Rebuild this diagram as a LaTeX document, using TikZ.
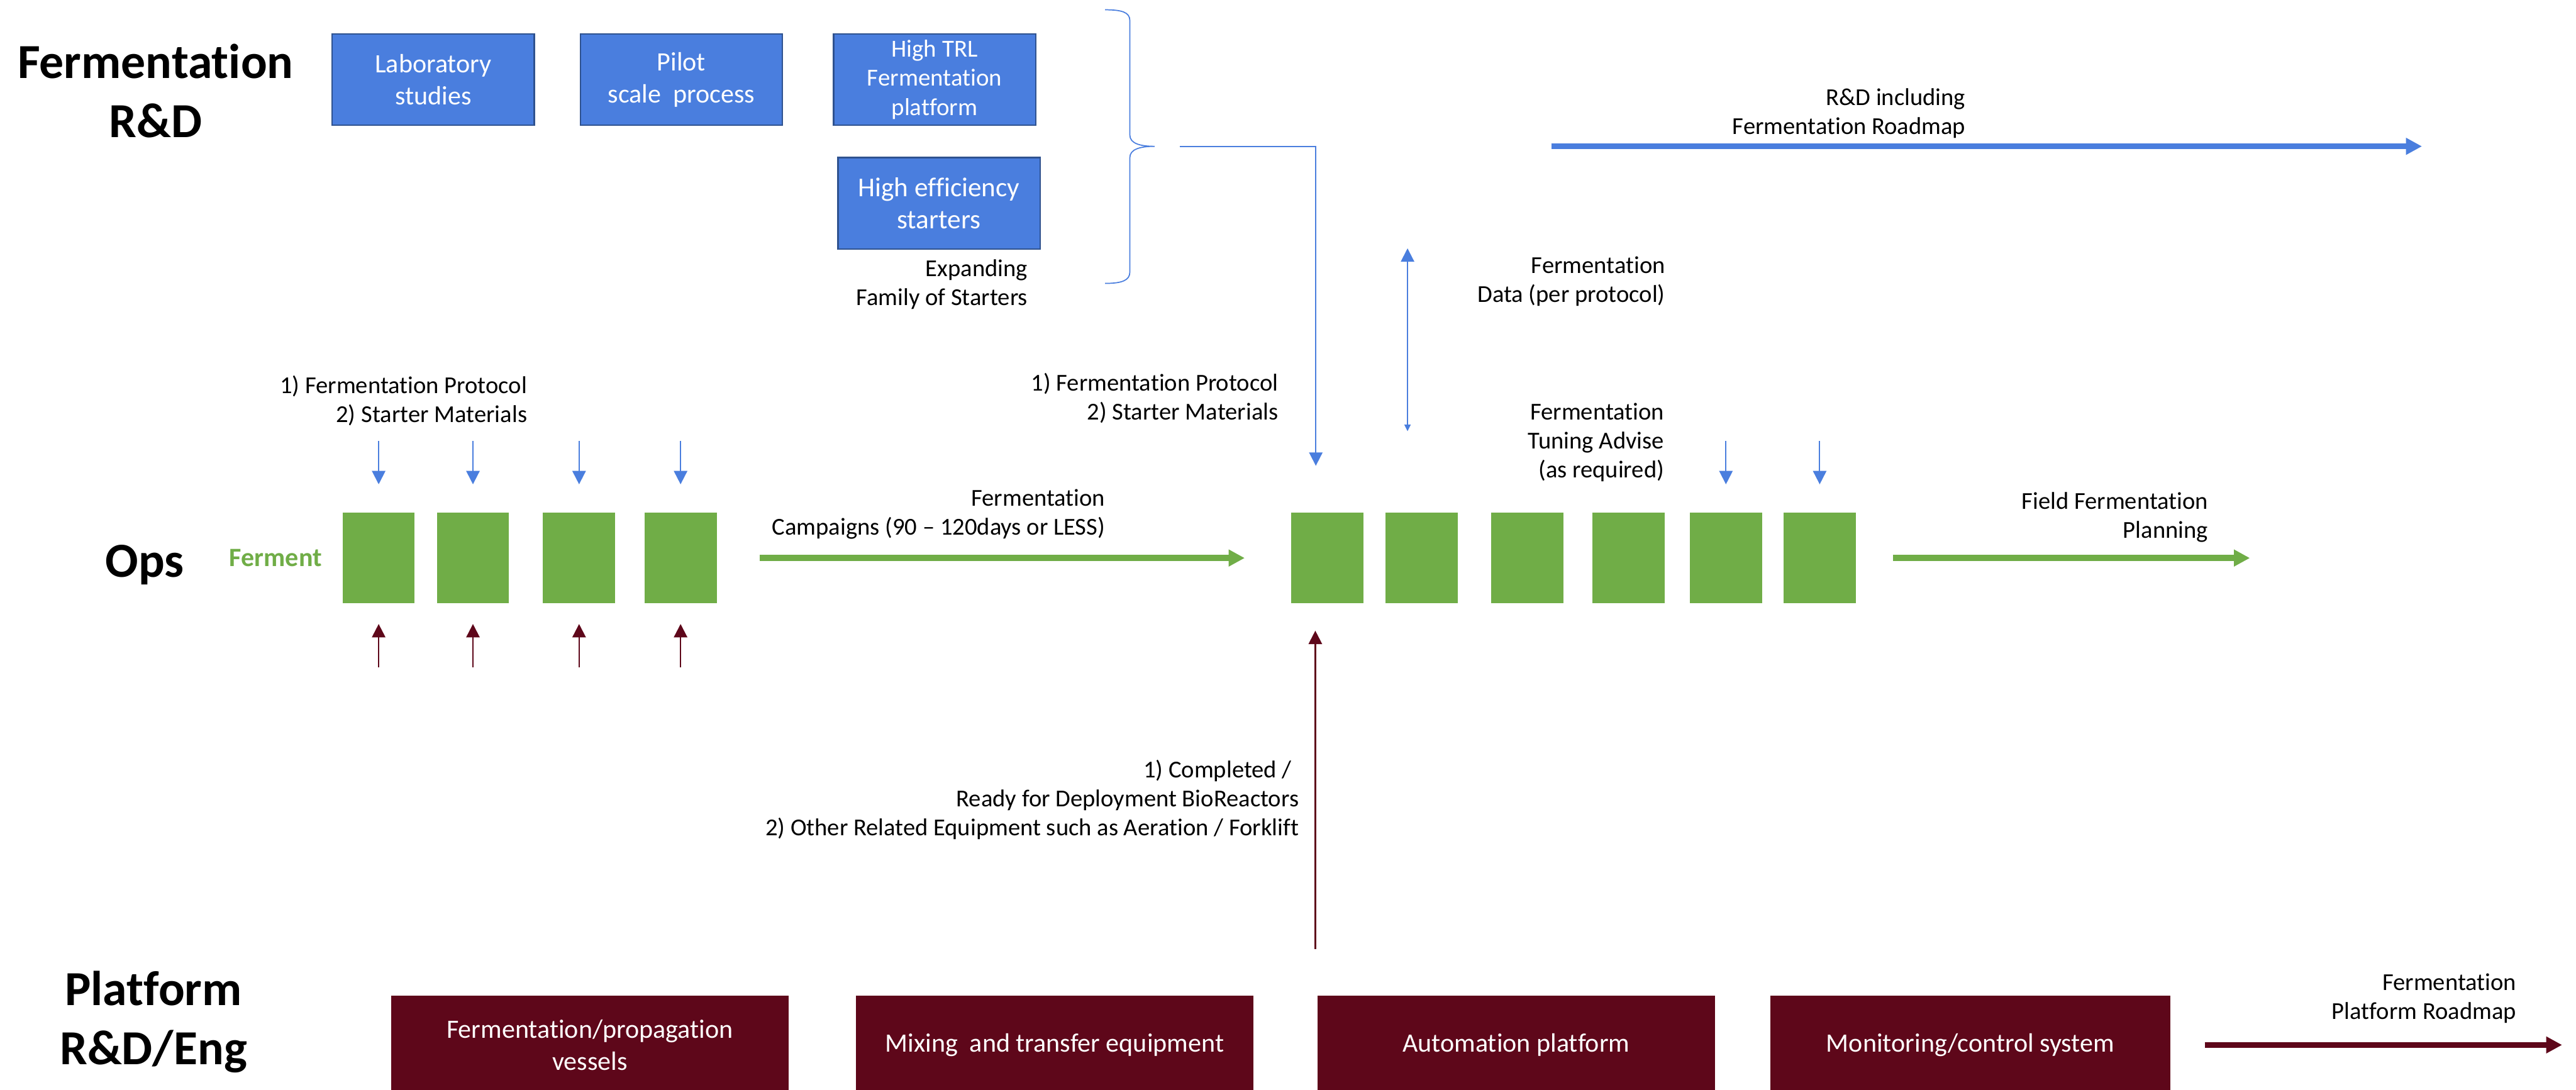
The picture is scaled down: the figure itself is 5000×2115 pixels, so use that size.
\documentclass[tikz,border=0pt]{standalone}
\usepackage{fontspec}
\setmainfont{Carlito}[Ligatures={TeX,NoCommon}]
\usepackage{tikz}
\usetikzlibrary{arrows.meta,positioning}

\definecolor{rdblue}{RGB}{74,126,222}
\definecolor{rdedge}{RGB}{47,82,143}
\definecolor{opsgreen}{RGB}{112,173,71}
\definecolor{pfred}{RGB}{94,7,26}

\newcommand{\fmlbl}{\fontsize{13.4}{16}\selectfont}
\newcommand{\fmbox}{\fontsize{14.6}{17.8}\selectfont}
\newcommand{\fmhead}{\fontsize{27}{32.5}\selectfont\bfseries}

\begin{document}
\begin{tikzpicture}[x=0.01cm,y=-0.01cm,>={Triangle[length=0.26cm,width=0.26cm]},
  every node/.style={inner sep=0pt,outer sep=0pt}]
\tikzstyle{rdbox}=[draw=rdedge,line width=0.8pt,fill=rdblue,text=white,align=center,
  minimum width=3.92cm,minimum height=1.77cm,font=\fmbox]
\tikzstyle{opsbox}=[fill=opsgreen,minimum width=1.4cm,minimum height=1.76cm]
\tikzstyle{pfbox}=[fill=pfred,text=white,align=center,minimum width=7.72cm,
  minimum height=1.9cm,font=\fmbox]
\tikzstyle{lbl}=[align=right,anchor=east,font=\fmlbl]
\tikzstyle{lanehead}=[align=center,font=\fmhead]
\tikzstyle{feed}=[line width=0.7pt,->]
\tikzstyle{bigarrow}=[line width=0.115cm,-{Triangle[length=0.31cm,width=0.31cm]}]

\useasboundingbox (0,0) rectangle (5000,2115);

% lane titles
\node[lanehead] (rdtitle) at (302,176) {Fermentation\\R\&D};
\node[lanehead,anchor=base] (opstitle) at (281,1120) {Ops};
\node[lanehead] (pftitle) at (298,1983) {Platform\\R\&D/Eng};

% fermentation R&D
\node[rdbox] (lab) at (841,154.5) {Laboratory\\studies};
\node[rdbox] (pilot) at (1322.5,154.5) {Pilot\\scale\ \ process};
\node[rdbox,font=\fontsize{13.5}{16.2}\selectfont] (trl) at (1814,154.5) {High TRL\\Fermentation\\platform};
\node[rdbox,font=\fontsize{15}{18}\selectfont] (eff) at (1822.5,394.5) {High efficiency\\starters};
\node[lbl,anchor=north east] (expand) at ([xshift=-0.24cm,yshift=-0.21cm]eff.south east) {Expanding\\Family of Starters};

\coordinate (bracetip) at (2241,284);
\draw[rdblue,line width=0.6pt] (2145,19) .. controls (2178,19) and (2193,24) .. (2193,40)
  -- (2193,262) .. controls (2193,278) and (2212,284) .. (bracetip)
  .. controls (2212,284) and (2193,290) .. (2193,306)
  -- (2193,528) .. controls (2193,544) and (2178,550) .. (2145,550);
\coordinate (feedstart) at (2290,284);
\coordinate (feedend) at (2554,904);
\draw[feed,rdblue] (feedstart) -| (feedend);

\coordinate (rdgo) at (3011,284);
\coordinate (rdend) at (4701,284);
\draw[bigarrow,rdblue] (rdgo) -- (rdend);
\node[lbl] (rdroad) at (3815,220) {R\&D including\\Fermentation Roadmap};

% ops
\foreach \n/\x in {1/735,2/918,3/1124,4/1321}{
  \node[opsbox] (f\n) at (\x,1083) {};
  \draw[feed,rdblue] ([yshift=1.39cm]f\n.north) -- ([yshift=0.55cm]f\n.north);
  \draw[feed,pfred,line width=0.8pt] ([yshift=-1.24cm]f\n.south) -- ([yshift=-0.4cm]f\n.south);
}
\node[font=\fmbox\bfseries,text=opsgreen,left=0.4cm of f1] (ferment) {Ferment};
\node[lbl] (protoA) at (1023,778) {1) Fermentation Protocol\\2) Starter Materials};

\foreach \n/\x in {1/2576,2/2759,3/2964,4/3161,5/3350,6/3532}
  \node[opsbox] (g\n) at (\x,1083) {};
\foreach \n in {5,6}
  \draw[feed,rdblue] ([yshift=1.39cm]g\n.north) -- ([yshift=0.55cm]g\n.north);

\draw[bigarrow,opsgreen,shorten <=0.84cm,shorten >=0.9cm] (f4) -- (g1);
\node[lbl] (campaign) at (2145,998) {Fermentation\\Campaigns (90 -- 120days or LESS)};
\node[lbl] (protoB) at (2481,773) {1) Fermentation Protocol\\2) Starter Materials};

\coordinate (datatop) at (2732,482);
\coordinate (databot) at (2732,837);
\draw[rdblue,line width=0.7pt,{Triangle[length=0.26cm,width=0.26cm]}-{Triangle[length=0.13cm,width=0.12cm]}] (datatop) -- (databot);
\node[lbl] (datalbl) at (3232,546) {Fermentation\\Data (per protocol)};
\node[lbl] (tuning) at (3230,859) {Fermentation\\Tuning Advise\\(as required)};

\coordinate (fieldend) at (4367,1083);
\draw[bigarrow,opsgreen,shorten <=0.72cm] (g6) -- (fieldend);
\node[lbl] (field) at (4286,1004) {Field Fermentation\\Planning};

% platform
\node[pfbox] (vessel) at (1145,2028) {Fermentation/propagation\\vessels};
\node[pfbox] (mixing) at (2047,2028) {Mixing\ \ and transfer equipment};
\node[pfbox] (auto) at (2943,2028) {Automation platform};
\node[pfbox,minimum width=7.75cm] (monitor) at (3824.5,2028) {Monitoring/control system};

\coordinate (equipfoot) at (2553,1842);
\coordinate (equiptip) at (2553,1224);
\draw[feed,pfred,line width=0.8pt] (equipfoot) -- (equiptip);
\node[lbl] (equip) at (2521,1552) {1) Completed /\hspace*{0.14cm}\\Ready for Deployment BioReactors\\2) Other Related Equipment such as Aeration / Forklift};

\coordinate (pfend) at (4973,2028);
\draw[bigarrow,pfred,shorten <=0.67cm] (monitor) -- (pfend);
\node[lbl] (pfroad) at (4884,1938) {Fermentation\\Platform Roadmap};
\end{tikzpicture}
\end{document}
